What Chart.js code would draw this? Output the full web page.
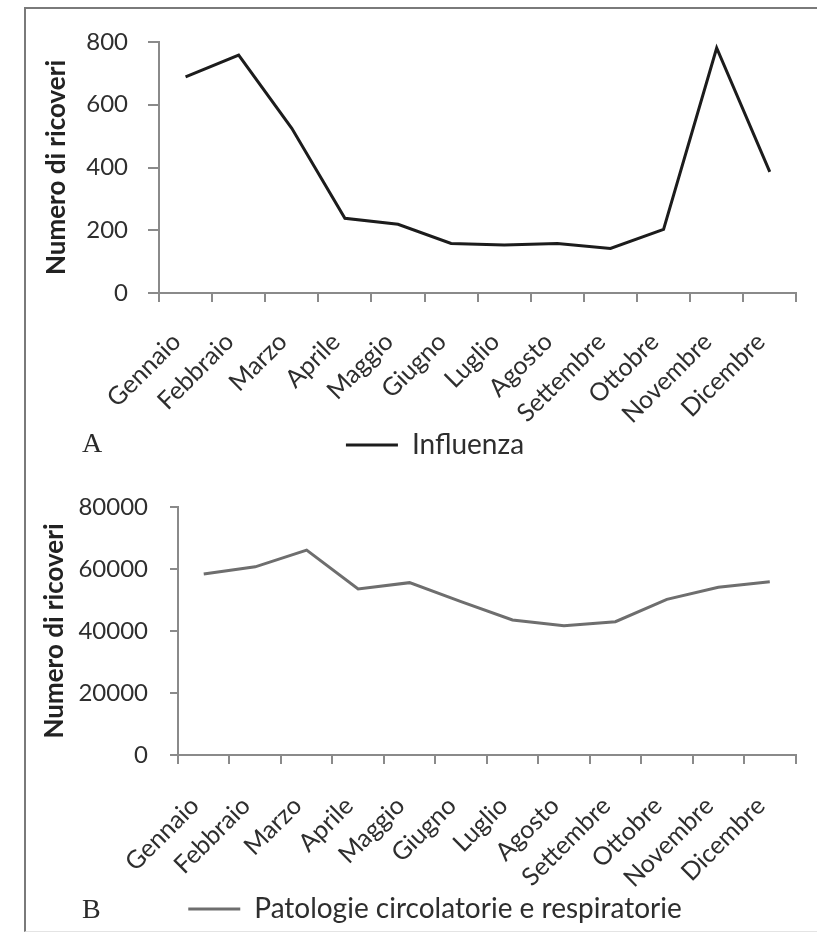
<!DOCTYPE html>
<html>
<head>
<meta charset="utf-8">
<script src="https://cdn.jsdelivr.net/npm/chart.js@4.4.1/dist/chart.umd.min.js"></script>
<style>
  html, body { margin: 0; padding: 0; background: #fff; overflow: hidden; width: 817px; height: 941px; }
  #frame { position: absolute; left: 24px; top: 7px; width: 900px; height: 922px; border-left: 2px solid #7a7a7a; border-top: 2px solid #7a7a7a; border-bottom: 1px solid #e4e4e4; }
  canvas { position: absolute; }
  #cA { left: -30px; top: 0px; }
  #cB { left: -30px; top: 470px; }
  .panel { position: absolute; font-family: "Liberation Serif", serif; font-size: 28px; color: #2a2a2a; line-height: 1; }
</style>
</head>
<body>
<div id="frame"></div>
<canvas id="cA" width="846" height="470"></canvas>
<canvas id="cB" width="848" height="463"></canvas>
<div class="panel" style="left:82px; top:429px;">A</div>
<div class="panel" style="left:82px; top:895px;">B</div>
<script>
const months = ["Gennaio","Febbraio","Marzo","Aprile","Maggio","Giugno","Luglio","Agosto","Settembre","Ottobre","Novembre","Dicembre"];
const influenza = [689, 758, 525, 238, 219, 158, 153, 158, 142, 203, 781, 386];
const patologie = [58400, 60700, 66100, 53550, 55600, 49500, 43550, 41700, 43000, 50200, 54100, 55900];
const yTicksA = [0, 200, 400, 600, 800];
const yTicksB = [0, 20000, 40000, 60000, 80000];
const yTitle = "Numero di ricoveri";
const labelA = "Influenza";
const labelB = "Patologie circolatorie e respiratorie";

const AXIS = '#8a8a8a';
const TXT = '#2e2e2e';

function makeChart(id, values, label, color, yTicks, cfg) {
  return new Chart(document.getElementById(id), {
    type: 'line',
    data: {
      labels: months,
      datasets: [{
        label: label,
        data: values,
        borderColor: color,
        backgroundColor: color,
        borderWidth: 3,
        pointRadius: 0,
        tension: 0,
        fill: false
      }]
    },
    options: {
      responsive: false,
      animation: false,
      devicePixelRatio: 1,
      layout: { padding: { left: cfg.padL, right: 0, top: cfg.padT, bottom: cfg.padB } },
      plugins: {
        tooltip: { enabled: false },
        legend: {
          position: 'bottom',
          labels: {
            boxWidth: 52,
            boxHeight: 3,
            padding: 0,
            color: TXT,
            font: { family: 'Lato', size: 28 },
            generateLabels: (chart) => [{
              text: label, fillStyle: color, strokeStyle: color, lineWidth: 0,
              hidden: false, datasetIndex: 0, fontColor: TXT
            }]
          }
        }
      },
      scales: {
        x: {
          offset: true,
          grid: { offset: true, drawOnChartArea: false, drawTicks: true, tickLength: 9, color: AXIS, lineWidth: 2 },
          border: { display: true, color: AXIS, width: 2 },
          ticks: { autoSkip: false, minRotation: 45, maxRotation: 45, padding: cfg.xPad, labelOffset: -9,
                   color: TXT, font: { family: 'Lato', size: 25 } },
          afterFit: (s) => { s.height = cfg.xH; }
        },
        y: {
          min: yTicks[0],
          max: yTicks[yTicks.length - 1],
          ticks: { stepSize: yTicks[1] - yTicks[0], padding: cfg.yPad, color: TXT, font: { family: 'Lato', size: 24 },
                   callback: (v) => String(v) },
          grid: { drawOnChartArea: false, drawTicks: true, tickLength: cfg.yTick, color: AXIS, lineWidth: 2 },
          border: { display: true, color: AXIS, width: 2 },
          title: { display: true, text: yTitle, color: '#222', font: { family: 'Lato', size: 26, weight: 'bold' }, padding: { top: cfg.tPad, bottom: 0 } },
          afterFit: (s) => { s.width = cfg.yW; }
        }
      }
    }
  });
}

makeChart('cA', influenza, labelA, '#1c1c1c', yTicksA,
  { padL: 84, padT: 42, padB: 1, xH: 138, xPad: 25, yPad: 20, yTick: 11, yW: 105, tPad: -12.6 });
makeChart('cB', patologie, labelB, '#6e6e6e', yTicksB,
  { padL: 82, padT: 37, padB: 0, xH: 140, xPad: 27, yPad: 22, yTick: 8, yW: 126, tPad: -12.6 });
</script>
</body>
</html>
